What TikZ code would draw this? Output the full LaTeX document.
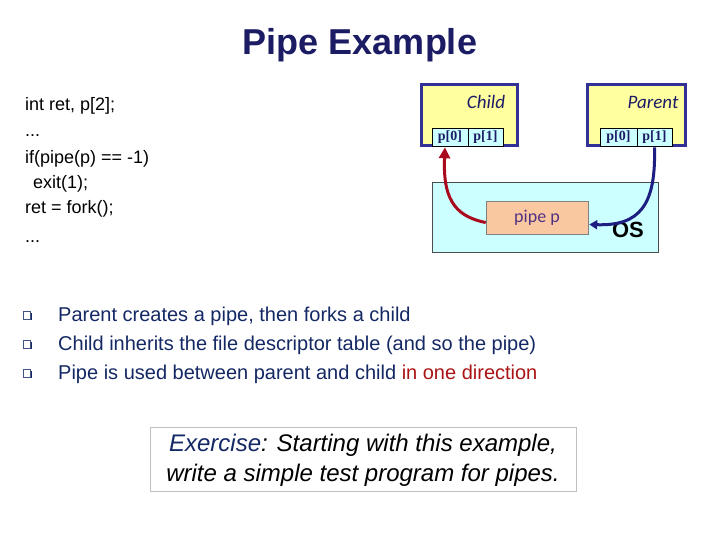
\documentclass[tikz,border=0pt]{standalone}
\usepackage{fontspec}
\setmainfont{Liberation Sans}
\newfontfamily\calib{Carlito}
\newfontfamily\cellfont{Liberation Serif}
\usetikzlibrary{arrows.meta,shadows}
\definecolor{titleblue}{RGB}{28,28,100}
\definecolor{textblue}{RGB}{20,40,100}
\definecolor{darkred}{RGB}{170,20,20}
\definecolor{boxyellow}{RGB}{255,255,160}
\definecolor{boxborder}{RGB}{50,50,150}
\definecolor{cellcyan}{RGB}{204,255,255}
\definecolor{pipefill}{RGB}{250,200,160}
\definecolor{pipetext}{RGB}{80,50,130}
\definecolor{arrowred}{RGB}{170,10,30}
\definecolor{arrowblue}{RGB}{30,30,130}
\begin{document}
\begin{tikzpicture}[x=1pt,y=-1pt,
  codeline/.style={anchor=base west,inner sep=0pt,font=\fontsize{18}{20}\selectfont},
  bullettext/.style={anchor=base west,inner sep=0pt,text=textblue,font=\fontsize{20}{22}\selectfont},
  bulletsq/.style={draw=textblue!80!white,fill=white,line width=0.7pt,minimum size=7.5pt,inner sep=0pt,
    drop shadow={shadow xshift=1.2pt,shadow yshift=-1.2pt,fill=textblue,opacity=1}},
  procbox/.style={draw=boxborder,fill=boxyellow,line width=3pt,inner sep=0pt},
  cell/.style={draw=black,fill=cellcyan,line width=0.6pt,minimum height=18pt,inner sep=0pt,text=titleblue,font=\cellfont\bfseries\fontsize{14}{14}\selectfont},
  proclabel/.style={inner sep=0pt,text=titleblue,font=\calib\itshape\fontsize{19}{19}\selectfont}
]
\useasboundingbox[fill=white] (0,0) rectangle (720,540);

% title
\node[inner sep=0pt,text=titleblue,font=\bfseries\fontsize{36}{40}\selectfont] (title) at (360,45) {Pipe Example};

% code
\node[codeline] (l1) at (25,111) {int ret, p[2];};
\node[codeline] (l2) at (25,137) {...};
\node[codeline] (l3) at (25,164) {if(pipe(p) == -1)};
\node[codeline] (l4) at (33,189) {exit(1);};
\node[codeline] (l5) at (25,214) {ret = fork();};
\node[codeline] (l6) at (25,242) {...};

% OS and pipe
\node[draw=black!70,fill=cellcyan,line width=0.6pt,minimum width=226pt,minimum height=70pt,inner sep=0pt] (os) at (545,217) {};
\node[draw=black!50,fill=pipefill,line width=0.5pt,minimum width=102pt,minimum height=33pt,inner sep=0pt,text=pipetext,font=\calib\fontsize{18}{18}\selectfont] (pipe) at (537,217.5) {pipe p};
\node[inner sep=0pt,font=\bfseries\fontsize{22}{22}\selectfont] (oslabel) at (628,230) {OS};

% child process
\node[procbox,minimum width=96pt,minimum height=61pt] (child) at (469,115.5) {};
\node[proclabel] (childlbl) at (486,102) {Child};
\node[cell,minimum width=36pt] (c0) at (450,137) {p[0]};
\node[cell,minimum width=35pt] (c1) at (485.5,137) {p[1]};

% parent process
\node[procbox,minimum width=98pt,minimum height=61pt] (parent) at (636,115.5) {};
\node[proclabel] (parentlbl) at (653,102) {Parent};
\node[cell,minimum width=37pt] (q0) at (618.5,137) {p[0]};
\node[cell,minimum width=35pt] (q1) at (654.5,137) {p[1]};

% arrows
\draw[arrowred,line width=3pt,-{Triangle[length=11pt,width=11pt]}]
  ([yshift=-5pt]pipe.west) .. controls (452,216) and (443,195) .. ([xshift=-5pt,yshift=-1pt]c0.south);
\draw[arrowblue,line width=3pt,-{Triangle[length=8pt,width=9pt]}]
  ([yshift=-1pt]q1.south) .. controls (656,205) and (640,226) .. ([yshift=-7pt,xshift=1pt]pipe.east);

% bullets
\node[bulletsq] (b1) at (27,315.5) {};
\node[bulletsq] (b2) at (27,344.5) {};
\node[bulletsq] (b3) at (27,373.5) {};
\node[bullettext] (t1) at (58,321) {Parent creates a pipe, then forks a child};
\node[bullettext] (t2) at (58,350) {Child inherits the file descriptor table (and so the pipe)};
\node[bullettext] (t3) at (58,379) {Pipe is used between parent and child \textcolor{darkred}{in one direction}};

% exercise
\node[draw=black!25,line width=0.8pt,minimum width=426pt,minimum height=64pt,inner sep=0pt] (ex) at (363,459) {};
\node[inner sep=0pt,align=center,font=\itshape\fontsize{24}{30}\selectfont] (extext) at (363,460) {\textcolor{textblue}{Exercise}: Starting with this example,\\write a simple test program for pipes.};
\end{tikzpicture}
\end{document}
